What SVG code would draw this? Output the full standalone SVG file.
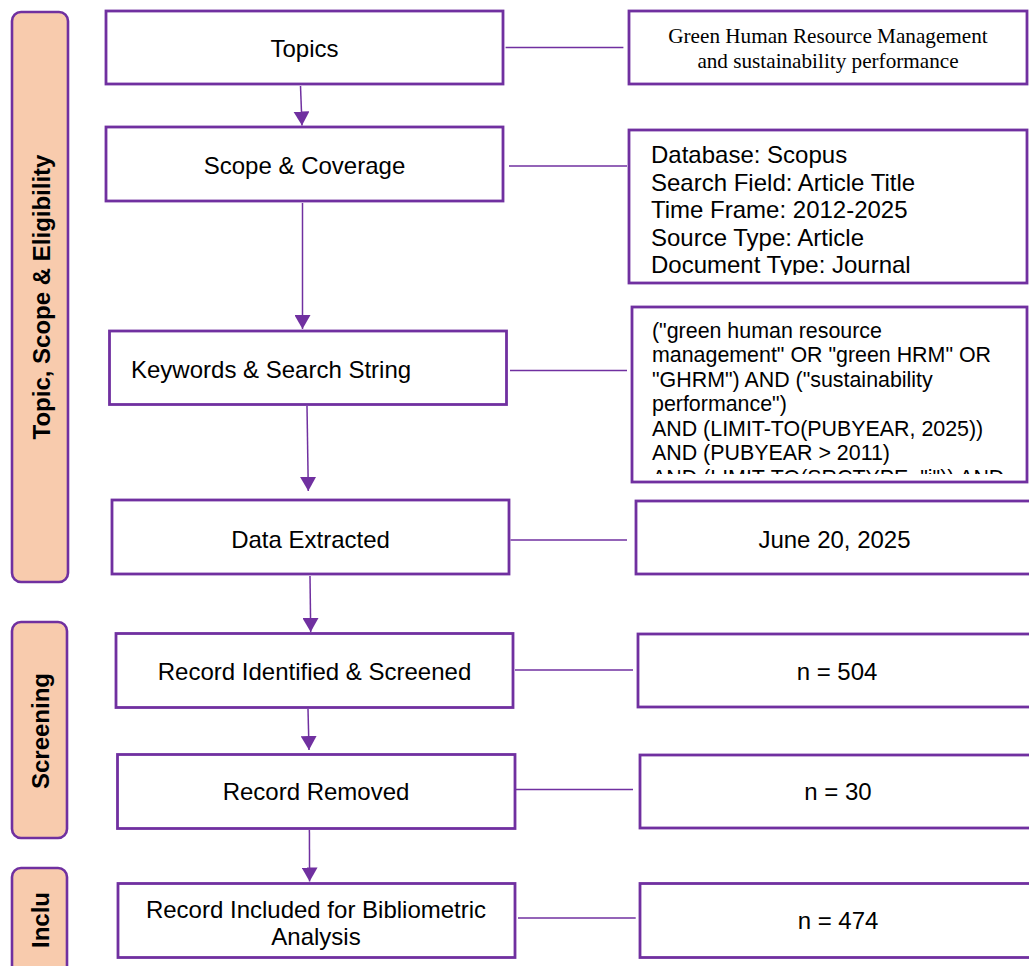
<svg xmlns="http://www.w3.org/2000/svg" width="1029" height="966" viewBox="0 0 1029 966">
<style>
.box{fill:#ffffff;stroke:#7030a0;stroke-width:2.8}
.bar{fill:#f8cbad;stroke:#7030a0;stroke-width:2.6}
.conn{stroke:#7030a0;stroke-width:1.3;fill:none}
.arr{stroke:#7030a0;stroke-width:1.5;fill:none}
.t{font-family:"Liberation Sans",Arial,sans-serif;font-size:24px;fill:#000}
.tc{text-anchor:middle}
.q{font-family:"Liberation Sans",Arial,sans-serif;font-size:21.4px;fill:#000}
.s{font-family:"Liberation Serif","Times New Roman",serif;font-size:21.2px;fill:#000;text-anchor:middle}
.b{font-family:"Liberation Sans",Arial,sans-serif;font-size:24px;font-weight:bold;fill:#000;text-anchor:middle}
</style>
<defs>
<marker id="ah" viewBox="0 0 14 16" refX="14" refY="8" markerWidth="14" markerHeight="16" markerUnits="userSpaceOnUse" orient="auto">
<path d="M0,0 L14,8 L0,16 z" fill="#7030a0"/>
</marker>
<clipPath id="clipScope"><rect x="630" y="131" width="396" height="144"/></clipPath>
<clipPath id="clipQuery"><rect x="633" y="308" width="393" height="166"/></clipPath>
</defs>

<g id="bar-topic">
<rect class="bar" x="12" y="12" width="56" height="570" rx="9"/>
<text class="b" transform="translate(50,297) rotate(-90)">Topic, Scope &amp; Eligibility</text>
</g>
<g id="bar-screening">
<rect class="bar" x="12" y="622" width="55" height="216" rx="9"/>
<text class="b" transform="translate(49,731) rotate(-90)">Screening</text>
</g>
<g id="bar-inclu">
<rect class="bar" x="12" y="868" width="55" height="110" rx="9"/>
<text class="b" transform="translate(49,920) rotate(-90)">Inclu</text>
</g>

<g id="connectors">
<line class="arr" x1="300.5" y1="86" x2="302" y2="125.5" marker-end="url(#ah)"/>
<line class="arr" x1="302.5" y1="203" x2="302.5" y2="329" marker-end="url(#ah)"/>
<line class="arr" x1="307" y1="406" x2="308.3" y2="491" marker-end="url(#ah)"/>
<line class="arr" x1="310" y1="576" x2="310.7" y2="632" marker-end="url(#ah)"/>
<line class="arr" x1="308" y1="709" x2="309" y2="750" marker-end="url(#ah)"/>
<line class="arr" x1="309.4" y1="830" x2="309.6" y2="881.5" marker-end="url(#ah)"/>
<line class="conn" x1="505.6" y1="47.5" x2="623.4" y2="47.5"/>
<line class="conn" x1="509" y1="166" x2="627" y2="166"/>
<line class="conn" x1="510" y1="370.5" x2="627" y2="370.5"/>
<line class="conn" x1="510.5" y1="540" x2="627" y2="540"/>
<line class="conn" x1="515" y1="670" x2="633" y2="670"/>
<line class="conn" x1="516" y1="789.5" x2="633" y2="789.5"/>
<line class="conn" x1="518" y1="918" x2="635.7" y2="918"/>
</g>

<g id="topics">
<rect class="box" x="106" y="11" width="397" height="73"/>
<text class="t tc" x="304.5" y="56.5">Topics</text>
</g>
<g id="topics-detail">
<rect class="box" x="629" y="11" width="398" height="73"/>
<text class="s" x="828" y="43">Green Human Resource Management</text>
<text class="s" x="828" y="68">and sustainability performance</text>
</g>

<g id="scope">
<rect class="box" x="106" y="127" width="397" height="74"/>
<text class="t tc" x="304.5" y="174">Scope &amp; Coverage</text>
</g>
<g id="scope-detail">
<rect class="box" x="629" y="130" width="398" height="153"/>
<g clip-path="url(#clipScope)">
<text class="t" x="651" y="163">Database: Scopus</text>
<text class="t" x="651" y="190.5">Search Field: Article Title</text>
<text class="t" x="651" y="218">Time Frame: 2012-2025</text>
<text class="t" x="651" y="245.5">Source Type: Article</text>
<text class="t" x="651" y="273">Document Type: Journal</text>
</g>
</g>

<g id="keywords">
<rect class="box" x="109.5" y="331" width="397" height="73.5"/>
<text class="t" x="131" y="378">Keywords &amp; Search String</text>
</g>
<g id="keywords-detail">
<rect class="box" x="632" y="307" width="395" height="175"/>
<g clip-path="url(#clipQuery)">
<text class="q" x="652" y="337.5">("green human resource</text>
<text class="q" x="652" y="362">management" OR "green HRM" OR</text>
<text class="q" x="652" y="386.5">"GHRM") AND ("sustainability</text>
<text class="q" x="652" y="411">performance")</text>
<text class="q" x="652" y="435.5">AND (LIMIT-TO(PUBYEAR, 2025))</text>
<text class="q" x="652" y="460">AND (PUBYEAR &gt; 2011)</text>
<text class="q" x="652" y="484.5">AND (LIMIT-TO(SRCTYPE, "j")) AND</text>
</g>
</g>

<g id="data-extracted">
<rect class="box" x="112" y="500" width="397" height="74"/>
<text class="t tc" x="310.5" y="548">Data Extracted</text>
</g>
<g id="data-date">
<rect class="box" x="636" y="501" width="400" height="73"/>
<text class="t tc" x="834.5" y="547.5">June 20, 2025</text>
</g>

<g id="identified">
<rect class="box" x="116" y="633.5" width="397" height="74"/>
<text class="t tc" x="314.5" y="679.5">Record Identified &amp; Screened</text>
</g>
<g id="identified-n">
<rect class="box" x="638" y="634" width="400" height="73"/>
<text class="t tc" x="837" y="679.5">n = 504</text>
</g>

<g id="removed">
<rect class="box" x="117.5" y="754.5" width="397.5" height="74"/>
<text class="t tc" x="316" y="800">Record Removed</text>
</g>
<g id="removed-n">
<rect class="box" x="640" y="755" width="400" height="73"/>
<text class="t tc" x="838" y="800">n = 30</text>
</g>

<g id="included">
<rect class="box" x="118" y="883.5" width="397" height="74"/>
<text class="t tc" x="316" y="917.5">Record Included for Bibliometric</text>
<text class="t tc" x="316" y="945">Analysis</text>
</g>
<g id="included-n">
<rect class="box" x="640" y="883.5" width="400" height="74"/>
<text class="t tc" x="838" y="928.5">n = 474</text>
</g>
</svg>
